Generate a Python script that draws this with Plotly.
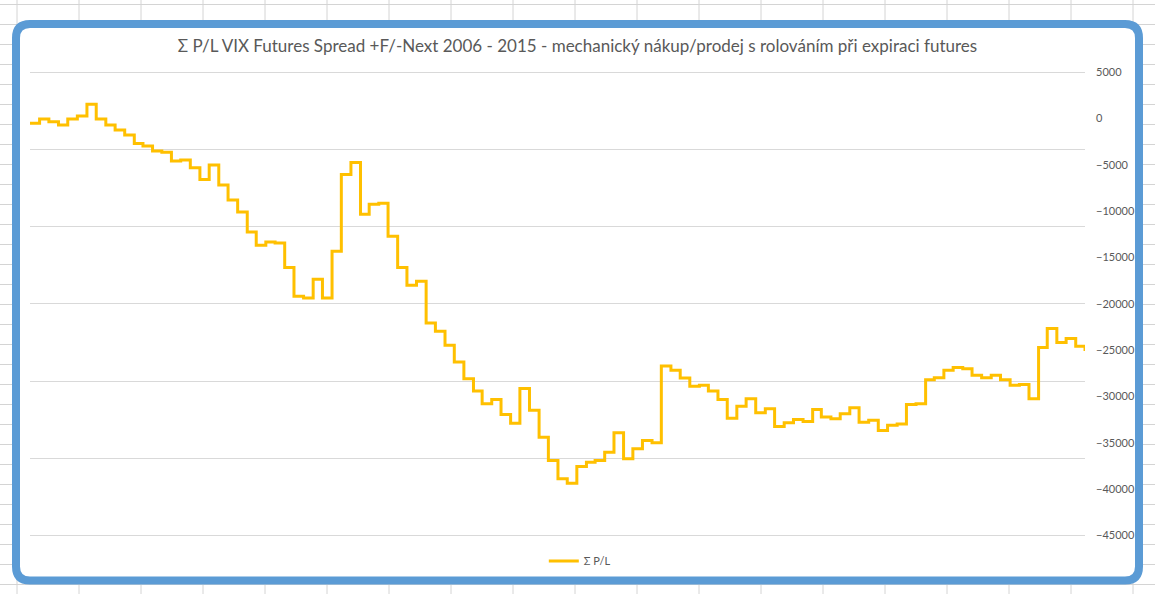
import plotly.graph_objects as go
import pandas as pd

# Cumulative P/L at each monthly roll
months = pd.date_range("2006-03-01", periods=113, freq="MS")
pl_values = [
    -540, -80, -370, -720, -80, 250, 1510, -80, -720, -1260,
    -1800, -2700, -2990, -3530, -3670, -4610, -4500, -5340, -6590, -5040,
    -7200, -8820, -10090, -12250, -13680, -13330, -13440, -16090, -19190, -19380,
    -17360, -19380, -14330, -6050, -4750, -10340, -9260, -9150, -12710, -16090,
    -18000, -17570, -22080, -22970, -24480, -26290, -28080, -29420, -30780, -30320,
    -31940, -32880, -29130, -31500, -34390, -36900, -38880, -39360, -37550, -37090,
    -36900, -36010, -33910, -36720, -35640, -34740, -34990, -26720, -27180, -28020,
    -28910, -28800, -29420, -30320, -32340, -31070, -30240, -31750, -31320, -33230,
    -32830, -32480, -32690, -31400, -32230, -32400, -31860, -31210, -32770, -32580,
    -33660, -33120, -32980, -30860, -30780, -28190, -27970, -27180, -26890, -27000,
    -27720, -27970, -27720, -28190, -28800, -28700, -30240, -24730, -22680, -24190,
    -23760, -24590, -25100,
]
series_name = "Σ P/L"
title_text = ("Σ P/L VIX Futures Spread +F/-Next 2006 - 2015 - "
              "mechanický nákup/prodej s rolováním při expiraci futures")
y_min, y_max, y_step = -45000, 5000, 5000
grid_intervals = 6

W, H = 1155, 594
FONT = "Lato"
GRAY = "#595959"

fig = go.Figure()
fig.add_trace(go.Scatter(
    x=months, y=pl_values, name=series_name, mode="lines",
    line=dict(color="#FFC000", width=3, shape="hv"),
    yaxis="y2", xaxis="x",
))
# empty helper trace so the gridline axis exists
fig.add_trace(go.Scatter(x=[], y=[], xaxis="x", yaxis="y", showlegend=False,
                         hoverinfo="skip"))

def px(x):
    return x / W

def py(y):
    return 1 - y / H

shapes = []
# spreadsheet cell grid in the background
for k in range(19):
    xx = px(17 + 62 * k)
    shapes.append(dict(type="line", xref="paper", yref="paper", x0=xx, x1=xx,
                       y0=0, y1=1, line=dict(color="#D4D4D4", width=1), layer="below"))
for k in range(30):
    yy = py(4.5 + 20 * k)
    shapes.append(dict(type="line", xref="paper", yref="paper", x0=0, x1=1,
                       y0=yy, y1=yy, line=dict(color="#D4D4D4", width=1), layer="below"))
# chart frame: rounded rectangle
L, R, T, B, r = 16, 1139, 24, 580.5, 14
path = (f"M {px(L + r)},{py(T)} L {px(R - r)},{py(T)} Q {px(R)},{py(T)} {px(R)},{py(T + r)} "
        f"L {px(R)},{py(B - r)} Q {px(R)},{py(B)} {px(R - r)},{py(B)} "
        f"L {px(L + r)},{py(B)} Q {px(L)},{py(B)} {px(L)},{py(B - r)} "
        f"L {px(L)},{py(T + r)} Q {px(L)},{py(T)} {px(L + r)},{py(T)} Z")
shapes.append(dict(type="path", xref="paper", yref="paper", path=path,
                   fillcolor="white", line=dict(color="#5B9BD5", width=8), layer="below"))

# plot area: top gridline at 72 px, bottom at 535.5 px; pad 3 px so edge gridlines draw
top_px, bot_px, pad_px = 72, 535.5, 3
span_px = bot_px - top_px
x_dom = [px(30), px(1085)]
y_dom = [py(bot_px + pad_px), py(top_px - pad_px)]
g_pad = pad_px * grid_intervals / span_px
v_pad = pad_px * (y_max - y_min) / span_px

fig.update_layout(
    width=W, height=H,
    margin=dict(l=0, r=0, t=0, b=0, pad=0),
    paper_bgcolor="white", plot_bgcolor="rgba(0,0,0,0)",
    font=dict(family=FONT, color=GRAY),
    title=dict(text=title_text, x=0.5, xanchor="center", y=py(46), yanchor="middle",
               font=dict(family=FONT, size=17, color=GRAY)),
    xaxis=dict(domain=x_dom, visible=False, range=[months[0], months[-1]]),
    yaxis=dict(domain=y_dom, range=[-g_pad, grid_intervals + g_pad], dtick=1, tick0=0,
               showticklabels=False, showgrid=True, gridcolor="#D9D9D9", gridwidth=1,
               zeroline=False, showline=False, ticks=""),
    yaxis2=dict(overlaying="y", side="right", range=[y_min - v_pad, y_max + v_pad],
                dtick=y_step, tick0=0,
                showgrid=False, zeroline=False, showline=False, ticks="",
                tickformat="d", ticklabelstandoff=10, automargin=False,
                tickfont=dict(family=FONT, size=11, color=GRAY)),
    showlegend=True,
    legend=dict(orientation="h", x=0.502, xanchor="center", y=py(561), yanchor="middle",
                font=dict(family=FONT, size=11, color=GRAY), bgcolor="rgba(0,0,0,0)"),
    shapes=shapes,
)

fig.write_html("out.html", config={"displayModeBar": False},
               post_script="document.body.style.margin='0px';document.body.style.overflow='hidden';")
